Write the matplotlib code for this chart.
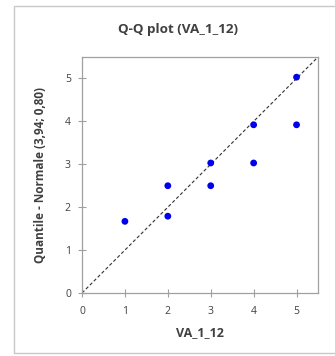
import matplotlib
matplotlib.use("Agg")
import matplotlib.pyplot as plt
from matplotlib.patches import Rectangle

x_obs = [1, 2, 2, 3, 3, 4, 4, 5, 5]
q_norm = [1.67, 1.79, 2.50, 2.50, 3.03, 3.03, 3.92, 3.92, 5.03]
xticks = [0, 1, 2, 3, 4, 5]
yticks = [0, 1, 2, 3, 4, 5]
title = "Q-Q plot (VA_1_12)"
xlabel = "VA_1_12"
ylabel = "Quantile - Normale (3,94; 0,80)"

plt.rcParams['font.family'] = ['Open Sans', 'DejaVu Sans']

fig = plt.figure(figsize=(3.35, 3.56), dpi=100)
fig.patches.append(Rectangle((14/335, 1 - 353/356), 1.0, (353-6)/356,
                             transform=fig.transFigure, fill=False,
                             edgecolor='#c8c8c8', linewidth=1.0))
ax = fig.add_axes([82/335, 1 - 293/356, (318-82)/335, (293-57)/356])
ax.set_xlim(0, 5.5)
ax.set_ylim(0, 5.5)
ax.plot([0, 5.5], [0, 5.5], linestyle=(0, (3, 2)), color='#333333', linewidth=0.8, zorder=1)
ax.scatter(x_obs, q_norm, s=24, color='#0000ee', edgecolors='none', zorder=3)
ax.set_xticks(xticks)
ax.set_yticks(yticks)
for s in ax.spines.values():
    s.set_color('#a0a0a0')
    s.set_linewidth(0.9)
ax.tick_params(direction='inout', length=6, width=0.8, color='#a0a0a0',
               labelsize=7.5, labelcolor='#404040')
ax.tick_params(axis='x', pad=6)
ax.tick_params(axis='y', pad=5)
ax.set_xlabel(xlabel, fontsize=9, fontweight='bold', color='#404040', labelpad=7)
ax.set_ylabel(ylabel, fontsize=8.5, fontweight='bold', color='#404040', labelpad=13)
fig.text(178/335, 1 - 29/356, title, ha='center', va='center', fontsize=9.7,
         fontweight='bold', color='#404040')
fig.savefig("out.png", dpi=100)
